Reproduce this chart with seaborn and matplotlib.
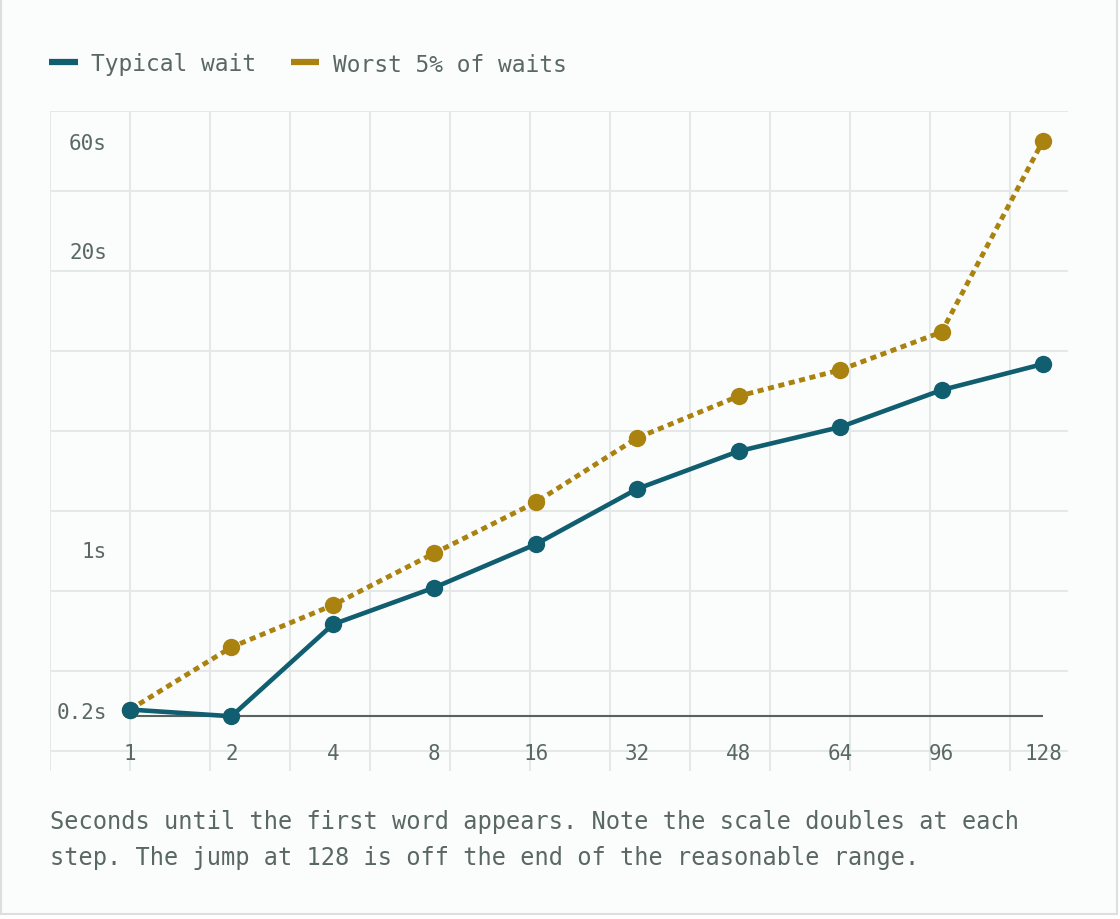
import numpy as np
import pandas as pd
import matplotlib.pyplot as plt
import seaborn as sns
from matplotlib.lines import Line2D
from matplotlib.patches import Rectangle
from matplotlib.ticker import NullLocator

# Data
threads = ["1", "2", "4", "8", "16", "32", "48", "64", "96", "128"]
typical_wait = [0.20, 0.187, 0.47, 0.68, 1.05, 1.83, 2.67, 3.40, 4.93, 6.40]
worst_wait = [0.20, 0.374, 0.57, 0.96, 1.60, 3.05, 4.64, 6.03, 8.82, 60.0]
y_tick_values = [0.2, 1, 20, 60]
y_tick_labels = ["0.2s", "1s", "20s", "60s"]
series_names = ["Typical wait", "Worst 5% of waits"]
caption = ("Seconds until the first word appears. Note the scale doubles at each\n"
           "step. The jump at 128 is off the end of the reasonable range.")

TEAL = "#105e70"
GOLD = "#aa8210"
TEXT = "#5a6864"
GRID = "#e4e8e7"
BG = "#fbfcfc"

sns.set_theme(style="white")
plt.rcParams["font.family"] = ["DejaVu Sans Mono", "DejaVu Sans"]

df = pd.DataFrame({
    "threads": threads * 2,
    "seconds": typical_wait + worst_wait,
    "series": [series_names[0]] * len(threads) + [series_names[1]] * len(threads),
})

W, H = 1120, 920
fig = plt.figure(figsize=(W / 100, H / 100), dpi=100, facecolor="white")

# card background with thin border
fig.add_artist(Rectangle((1 / W, 5 / H), 1116 / W, 1.0, transform=fig.transFigure,
                         facecolor=BG, edgecolor="#dcdfde", linewidth=1.5, zorder=-10))


def px_rect(left, top, right, bottom):
    return [left / W, 1 - bottom / H, (right - left) / W, (bottom - top) / H]


# background grid (fixed pixel pattern, independent of the data)
ax_bg = fig.add_axes(px_rect(50, 112, 1068, 772), zorder=0)
ax_bg.set_facecolor("none")
ax_bg.set_xlim(0, 1018)
ax_bg.set_ylim(660, 0)
ax_bg.set_xticks(np.arange(0, 1018, 80))
ax_bg.set_yticks(np.arange(0, 660, 80))
ax_bg.grid(True, color=GRID, linewidth=1.5)
ax_bg.tick_params(length=0, labelbottom=False, labelleft=False)
for s in ax_bg.spines.values():
    s.set_visible(False)

# main chart
ax = fig.add_axes(px_rect(50, 112, 1068, 772), zorder=1)
ax.set_facecolor("none")

ax.hlines(min(typical_wait + worst_wait), 0, len(threads) - 1,
          color="#56635f", linewidth=1.5, zorder=1)

sns.lineplot(data=df[df["series"] == series_names[1]], x="threads", y="seconds",
             ax=ax, color=GOLD, linewidth=3.5, linestyle=(0, (1.25, 0.95)),
             marker="o", markersize=12.5, markeredgewidth=0, sort=False, zorder=3)
sns.lineplot(data=df[df["series"] == series_names[0]], x="threads", y="seconds",
             ax=ax, color=TEAL, linewidth=3.3,
             marker="o", markersize=12.5, markeredgewidth=0, sort=False, zorder=4)

ax.set_yscale("log")
ax.set_ylim(0.108, 81)
ax.set_xlim(-0.789, 9.247)
ax.set_yticks(y_tick_values)
ax.set_yticklabels(y_tick_labels)
ax.yaxis.set_minor_locator(NullLocator())
ax.set_xlabel("")
ax.set_ylabel("")
ax.tick_params(axis="y", length=0, pad=-41, labelsize=15, labelcolor=TEXT)
ax.tick_params(axis="x", length=0, pad=-20, labelsize=15, labelcolor=TEXT)
for lbl in ax.get_yticklabels():
    lbl.set_horizontalalignment("right")
for s in ax.spines.values():
    s.set_visible(False)
if ax.get_legend():
    ax.get_legend().remove()

# legend
handles = [Line2D([], [], color=TEAL, linewidth=4.5, solid_capstyle="butt"),
           Line2D([], [], color=GOLD, linewidth=4.5, solid_capstyle="butt")]
fig.legend(handles, series_names, loc="center left",
           bbox_to_anchor=(49 / W, 1 - 65 / H), ncol=2, frameon=False,
           fontsize=16.5, labelcolor=TEXT, handlelength=1.25, handletextpad=0.6,
           columnspacing=1.5, borderpad=0, borderaxespad=0)

fig.text(50 / W, 1 - 840 / H, caption, fontsize=17, color=TEXT,
         va="center", ha="left", linespacing=1.62)

fig.savefig("out.png", dpi=100, facecolor=fig.get_facecolor())
